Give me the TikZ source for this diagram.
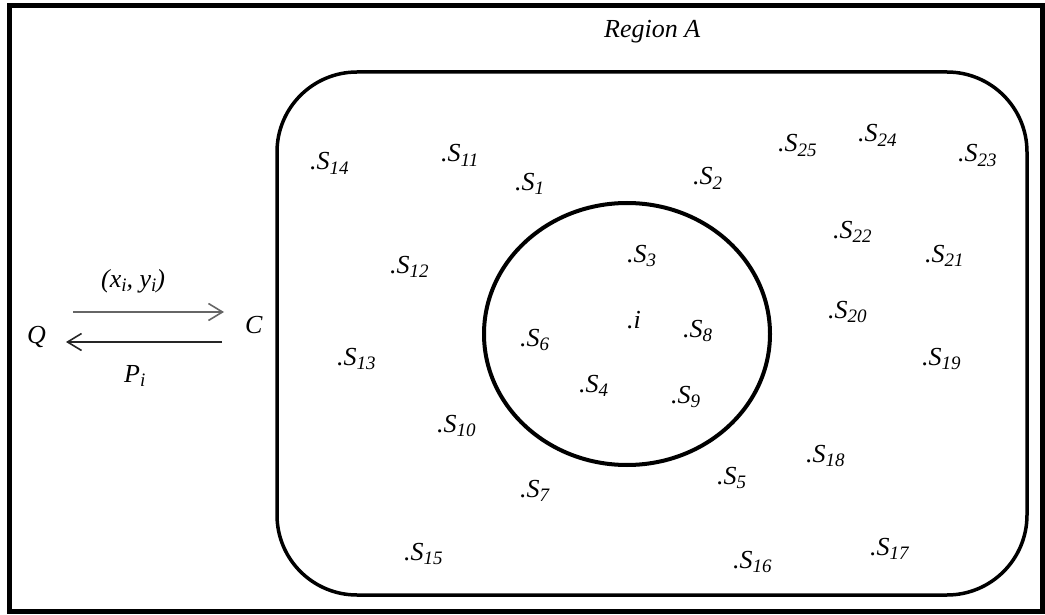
\documentclass[tikz,border=0pt]{standalone}
\usepackage{fontspec}
\setmainfont{Liberation Serif}
\usetikzlibrary{arrows.meta}
\newcommand\sbx[1]{\raisebox{-0.35ex}{\fontsize{19}{19}\selectfont #1}}
\tikzset{
  lab/.style={anchor=base west, inner sep=0pt, font=\fontsize{26}{31}\selectfont\itshape},
  frame/.style={line width=5pt},
  region/.style={line width=3.5pt, rounded corners=80pt},
  ring/.style={line width=4pt},
  arr/.style={line width=1.6pt, -{Straight Barb[length=14pt,width=17pt,line width=1.6pt]}},
}
\begin{document}
\begin{tikzpicture}[x=1pt,y=-1pt]
\useasboundingbox (0,0) rectangle (1045,615);
\draw[frame] (9,6) rectangle (1042,611);
\draw[region] (277,72) rectangle (1027,595);
\draw[ring] (627,334) ellipse [x radius=143, y radius=131];

\node[lab] (regA) at (604,38) {Region A};
\node[lab] (Q) at (27,343) {Q};
\node[lab] (C) at (245,333) {C};
\node[lab] (xy) at (101,287) {(x\sbx{i}, y\sbx{i})};
\node[lab] (P) at (124,382) {P\sbx{i}};

\coordinate (a1) at (73,312);
\coordinate (a2) at (224,312);
\coordinate (b1) at (222,342);
\coordinate (b2) at (66,342);
\draw[arr, draw=black!60] (a1) -- (a2);
\draw[arr, draw=black!85] (b1) -- (b2);

\node[lab] (s14) at (310,170) {.S\sbx{14}};
\node[lab] (s11) at (441,162) {.S\sbx{11}};
\node[lab] (s1)  at (515,190) {.S\sbx{1}};
\node[lab] (s2)  at (693,185) {.S\sbx{2}};
\node[lab] (s25) at (778,152) {.S\sbx{25}};
\node[lab] (s24) at (858,142) {.S\sbx{24}};
\node[lab] (s23) at (958,162) {.S\sbx{23}};
\node[lab] (s22) at (833,238) {.S\sbx{22}};
\node[lab] (s21) at (925,262) {.S\sbx{21}};
\node[lab] (s12) at (390,273) {.S\sbx{12}};
\node[lab] (s3)  at (627,262) {.S\sbx{3}};
\node[lab] (i)   at (627,328) {.i};
\node[lab] (s8)  at (683,337) {.S\sbx{8}};
\node[lab] (s6)  at (520,346) {.S\sbx{6}};
\node[lab] (s4)  at (579,392) {.S\sbx{4}};
\node[lab] (s9)  at (671,403) {.S\sbx{9}};
\node[lab] (s13) at (337,365) {.S\sbx{13}};
\node[lab] (s20) at (828,318) {.S\sbx{20}};
\node[lab] (s19) at (922,365) {.S\sbx{19}};
\node[lab] (s10) at (437,432) {.S\sbx{10}};
\node[lab] (s18) at (806,462) {.S\sbx{18}};
\node[lab] (s5)  at (717,484) {.S\sbx{5}};
\node[lab] (s7)  at (520,497) {.S\sbx{7}};
\node[lab] (s15) at (404,560) {.S\sbx{15}};
\node[lab] (s16) at (733,568) {.S\sbx{16}};
\node[lab] (s17) at (870,555) {.S\sbx{17}};
\end{tikzpicture}
\end{document}
